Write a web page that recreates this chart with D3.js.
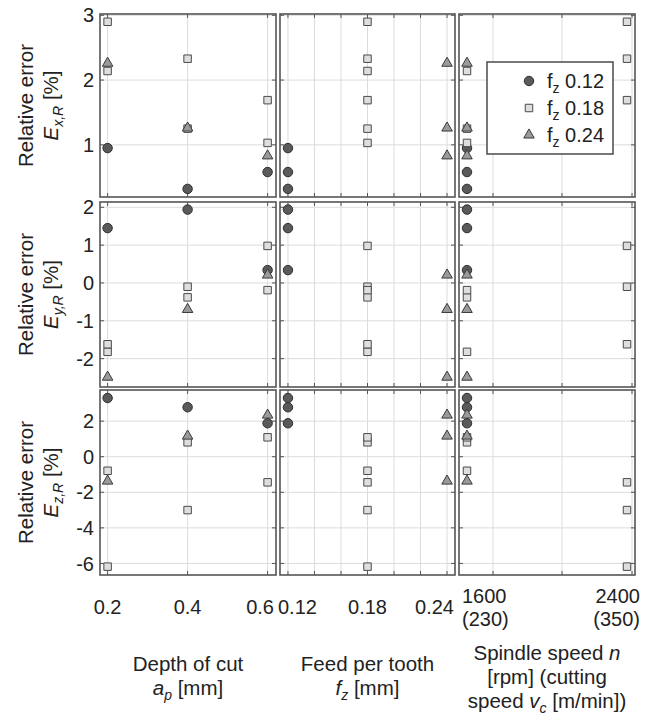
<!DOCTYPE html>
<html>
<head>
<meta charset="utf-8">
<script src="https://cdn.jsdelivr.net/npm/d3@7"></script>
<style>
  body { margin: 0; background: #fff; }
  text { font-family: "Liberation Sans", Arial, sans-serif; fill: #222; }
</style>
</head>
<body>
<script>
// runs of the experiment (one entry per run)
const runAp = [0.2, 0.4, 0.6, 0.2, 0.4, 0.6, 0.2, 0.2, 0.4, 0.4, 0.6, 0.6];
const runFz = [0.12, 0.12, 0.12, 0.24, 0.24, 0.24, 0.18, 0.18, 0.18, 0.18, 0.18, 0.18];
const runN = [1600, 1600, 1600, 1600, 1600, 1600, 1600, 2400, 1600, 2400, 1600, 2400];
const errX = [0.95, 0.32, 0.58, 2.26, 1.26, 0.83, 2.14, 2.90, 1.25, 2.33, 1.03, 1.69];
const errY = [1.45, 1.94, 0.34, -2.49, -0.70, 0.21, -1.82, -1.62, -0.38, -0.10, -0.19, 0.98];
const errZ = [3.30, 2.78, 1.88, -1.37, 1.16, 2.34, -0.79, -6.18, 0.81, -3.00, 1.09, -1.44];

// axis ticks and labels
const apTicks = [0.2, 0.4, 0.6];
const fzTicks = [0.12, 0.18, 0.24];
const fzGrid = [0.12, 0.14, 0.16, 0.18, 0.20, 0.22, 0.24];
const nTicks = [1600, 2400];
const nGrid = [1730, 2075, 2425];
const vcLabels = ["(230)", "(350)"];
const errXTicks = [1, 2, 3];
const errYTicks = [-2, -1, 0, 1, 2];
const errZTicks = [-6, -4, -2, 0, 2];
const seriesFz = [0.12, 0.18, 0.24];
const seriesLabels = ["0.12", "0.18", "0.24"];

var runs = runAp.map((ap, i) => ({ap: ap, fz: runFz[i], n: runN[i], ex: errX[i], ey: errY[i], ez: errZ[i]}));
// draw circles, then squares, then triangles
runs.sort((a, b) => seriesFz.indexOf(a.fz) - seriesFz.indexOf(b.fz));

var markers = {
  0.12: {type: d3.symbolCircle, size: 70, fill: "#5a5a5a", stroke: "#2e2e2e"},
  0.18: {type: d3.symbolSquare, size: 56, fill: "#dedede", stroke: "#4a4a4a"},
  0.24: {type: d3.symbolTriangle, size: 48, fill: "#9a9a9a", stroke: "#3a3a3a"}
};

var cols = [
  {x0: 100, x1: 276, domain: [0.181, 0.621], key: "ap", ticks: apTicks, grid: apTicks, lo: 90, hi: 274, fmt: d3.format(".1f")},
  {x0: 280, x1: 455, domain: [0.114, 0.246], key: "fz", ticks: fzTicks, grid: fzGrid, lo: 278, hi: 454, fmt: d3.format(".2f")},
  {x0: 459, x1: 635, domain: [1560, 2440], key: "n", ticks: nTicks, grid: nGrid, lo: 462, hi: 640, fmt: d3.format("d")}
];
var rows = [
  {y0: 14, y1: 197, domain: [0.195, 3.02], key: "ex", ticks: errXTicks, sub: "x,R"},
  {y0: 202, y1: 387, domain: [-2.75, 2.14], key: "ey", ticks: errYTicks, sub: "y,R"},
  {y0: 390, y1: 575, domain: [-6.65, 3.75], key: "ez", ticks: errZTicks, sub: "z,R"}
];

var svg = d3.select("body")
  .append("svg")
  .attr("width", 656)
  .attr("height", 715);

rows.forEach(function(row, ri) {
  var y = d3.scaleLinear().domain(row.domain).range([row.y1, row.y0]);

  cols.forEach(function(col, ci) {
    var x = d3.scaleLinear().domain(col.domain).range([col.x0, col.x1]);
    var g = svg.append("g");

    // grid
    g.selectAll(".vgrid").data(col.grid).enter()
      .append("line")
      .attr("x1", d => x(d)).attr("x2", d => x(d))
      .attr("y1", row.y0).attr("y2", row.y1)
      .attr("stroke", "#dcdcdc").attr("stroke-width", 1);
    g.selectAll(".hgrid").data(row.ticks).enter()
      .append("line")
      .attr("x1", col.x0).attr("x2", col.x1)
      .attr("y1", d => y(d)).attr("y2", d => y(d))
      .attr("stroke", "#dcdcdc").attr("stroke-width", 1);

    // small inward ticks on the frame
    col.grid.forEach(function(v) {
      g.append("line").attr("x1", x(v)).attr("x2", x(v)).attr("y1", row.y0).attr("y2", row.y0 + 4).attr("stroke", "#555");
      g.append("line").attr("x1", x(v)).attr("x2", x(v)).attr("y1", row.y1).attr("y2", row.y1 - 4).attr("stroke", "#555");
    });
    row.ticks.forEach(function(v) {
      g.append("line").attr("x1", col.x0).attr("x2", col.x0 + 4).attr("y1", y(v)).attr("y2", y(v)).attr("stroke", "#555");
      g.append("line").attr("x1", col.x1).attr("x2", col.x1 - 4).attr("y1", y(v)).attr("y2", y(v)).attr("stroke", "#555");
    });

    // points
    g.selectAll(".pt").data(runs).enter()
      .append("path")
      .attr("d", d => d3.symbol().type(markers[d.fz].type).size(markers[d.fz].size)())
      .attr("transform", d => "translate(" + x(d[col.key]) + "," + y(d[row.key]) + ")")
      .attr("fill", d => markers[d.fz].fill)
      .attr("stroke", d => markers[d.fz].stroke)
      .attr("stroke-width", 1);

    // frame
    g.append("rect")
      .attr("x", col.x0).attr("y", row.y0)
      .attr("width", col.x1 - col.x0).attr("height", row.y1 - row.y0)
      .attr("fill", "none")
      .attr("stroke", "#555")
      .attr("stroke-width", 1.6);

    // x tick labels under the last row
    if (ri == rows.length - 1) {
      col.ticks.forEach(function(v, i) {
        var lines = col.key == "n" ? [col.fmt(v), vcLabels[i]] : [col.fmt(v)];
        var base = col.key == "n" ? 603 : 614;
        lines.forEach(function(s, li) {
          var t = svg.append("text")
            .attr("x", x(v))
            .attr("y", base + li * 23)
            .attr("text-anchor", "middle")
            .attr("font-size", 20)
            .text(s);
          var w = t.node().getComputedTextLength();
          var cx = Math.max(col.lo + w / 2, Math.min(col.hi - w / 2, x(v)));
          t.attr("x", cx);
        });
      });
    }
  });

  // y tick labels
  svg.selectAll(".ylab" + ri).data(row.ticks).enter()
    .append("text")
    .attr("x", 94)
    .attr("y", d => y(d))
    .attr("dy", "0.36em")
    .attr("text-anchor", "end")
    .attr("font-size", 20)
    .text(d => d);

  // y title
  var cy = (row.y0 + row.y1) / 2;
  var yt = svg.append("g").attr("transform", "translate(33," + cy + ") rotate(-90)");
  yt.append("text")
    .attr("text-anchor", "middle")
    .attr("font-size", 20.5)
    .text("Relative error");
  var t2 = yt.append("text")
    .attr("y", 25)
    .attr("text-anchor", "middle")
    .attr("font-size", 20.5);
  t2.append("tspan").attr("font-style", "italic").text("E");
  t2.append("tspan").attr("font-style", "italic").attr("font-size", 14).attr("dy", 5).text(row.sub);
  t2.append("tspan").attr("dy", -5).text(" [%]");
});

// x titles
function title(cx, y0, parts) {
  parts.forEach(function(line, i) {
    var t = svg.append("text")
      .attr("x", cx)
      .attr("y", y0 + i * 24)
      .attr("text-anchor", "middle")
      .attr("font-size", 20.5);
    line.forEach(function(p) {
      var s = t.append("tspan").text(p.t);
      if (p.i) s.attr("font-style", "italic");
      if (p.sub) s.attr("font-size", 14).attr("dy", 5);
      if (p.up) s.attr("dy", -5);
    });
  });
}
title((cols[0].x0 + cols[0].x1) / 2, 671, [
  [{t: "Depth of cut"}],
  [{t: "a", i: 1}, {t: "p", i: 1, sub: 1}, {t: " [mm]", up: 1}]
]);
title((cols[1].x0 + cols[1].x1) / 2, 671, [
  [{t: "Feed per tooth"}],
  [{t: "f", i: 1}, {t: "z", i: 1, sub: 1}, {t: " [mm]", up: 1}]
]);
title((cols[2].x0 + cols[2].x1) / 2, 660, [
  [{t: "Spindle speed "}, {t: "n", i: 1}],
  [{t: "[rpm] (cutting"}],
  [{t: "speed "}, {t: "v", i: 1}, {t: "c", i: 1, sub: 1}, {t: " [m/min])", up: 1}]
]);

// legend
var legend = svg.append("g").attr("id", "legend");
legend.append("rect")
  .attr("x", 487).attr("y", 62)
  .attr("width", 126).attr("height", 92)
  .attr("fill", "#fff")
  .attr("stroke", "#555")
  .attr("stroke-width", 1.6);
seriesFz.forEach(function(f, i) {
  var ly = 81 + i * 27;
  legend.append("path")
    .attr("d", d3.symbol().type(markers[f].type).size(markers[f].size)())
    .attr("transform", "translate(529," + ly + ")")
    .attr("fill", markers[f].fill)
    .attr("stroke", markers[f].stroke);
  var t = legend.append("text")
    .attr("x", 547)
    .attr("y", ly + 7)
    .attr("font-size", 20);
  t.append("tspan").text("f");
  t.append("tspan").attr("font-size", 14).attr("dy", 5).text("z");
  t.append("tspan").attr("dy", -5).text(" " + seriesLabels[i]);
});
</script>
</body>
</html>
